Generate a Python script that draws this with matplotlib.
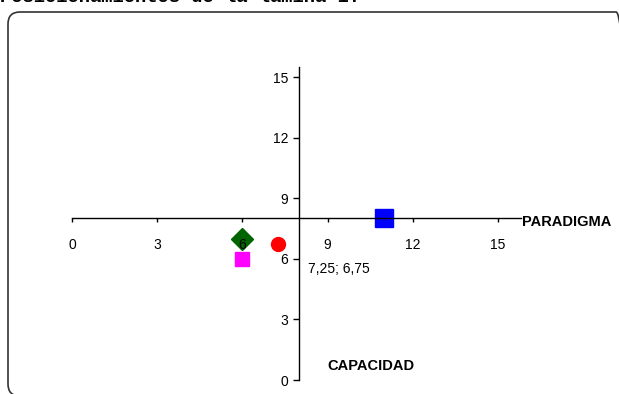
import matplotlib
matplotlib.use('Agg')
import matplotlib.pyplot as plt
from matplotlib.patches import FancyBboxPatch
from matplotlib.transforms import IdentityTransform

# posiciones de cada lámina: (paradigma, capacidad)
paradigma = [11, 6, 7.25, 6]
capacidad = [8, 7, 6.75, 6]
ticks = [0, 3, 6, 9, 12, 15]
etiqueta = 2  # punto con la etiqueta de valores

colores = ['#0000ff', '#006400', '#ff0000', '#ff00ff']
marcadores = ['s', 'D', 'o', 's']
tamanos = [13, 11.5, 10, 10]

plt.rcParams['font.family'] = ['Liberation Sans', 'DejaVu Sans']

W, H = 619, 394
fig = plt.figure(figsize=(W / 100, H / 100), dpi=100)
fig.patch.set_facecolor('white')

# marco redondeado
marco = FancyBboxPatch((8, -2), 620, H - 12 + 2,
                       boxstyle='round,pad=0,rounding_size=12',
                       transform=IdentityTransform(), fill=False,
                       edgecolor='#333333', linewidth=1.2)
fig.patches.append(marco)

fig.text(0.0, 1 - 1.5 / H, 'Posicionamientos de la lámina 1.',
         fontfamily='Liberation Mono', fontweight='bold', fontsize=13.5,
         va='baseline', ha='left')

xmax, ymax = 15.8, 15.5
ax = fig.add_axes([72 / W, 14 / H, xmax * 28.4 / W, ymax * 20.2 / H])
ax.set_xlim(0, xmax)
ax.set_ylim(0, ymax)
ax.patch.set_alpha(0)

for s in ['top', 'right']:
    ax.spines[s].set_visible(False)
ax.spines['left'].set_position(('data', 8))
ax.spines['bottom'].set_position(('data', 8))
for s in ['left', 'bottom']:
    ax.spines[s].set_linewidth(1.0)

ax.set_xticks(ticks)
ax.set_yticks(ticks)
ax.set_xticklabels([str(t) for t in ticks])
ax.set_yticklabels([str(t) for t in ticks])
ax.tick_params(axis='x', direction='out', length=3, width=1, pad=11,
               labelsize=10, colors='black')
ax.tick_params(axis='y', direction='out', length=4, width=1, pad=4,
               labelsize=10, colors='black')

for x, y, c, m, t in zip(paradigma, capacidad, colores, marcadores, tamanos):
    ax.plot(x, y, marker=m, color=c, markersize=t, linestyle='none',
            clip_on=False, zorder=1)

px, py = paradigma[etiqueta], capacidad[etiqueta]
ax.annotate(f'{px:.2f}'.replace('.', ',') + '; ' + f'{py:.2f}'.replace('.', ','),
            (px, py), xytext=(21.5, -18), textcoords='offset points',
            ha='left', va='center', fontsize=10)

ax.text(15.85, 7.82, 'PARADIGMA', fontweight='bold', fontsize=10.5,
        ha='left', va='center', clip_on=False)
ax.text(8.98, 0.69, 'CAPACIDAD', fontweight='bold', fontsize=10.5,
        ha='left', va='center', clip_on=False)

fig.savefig('out.png', dpi=100)
